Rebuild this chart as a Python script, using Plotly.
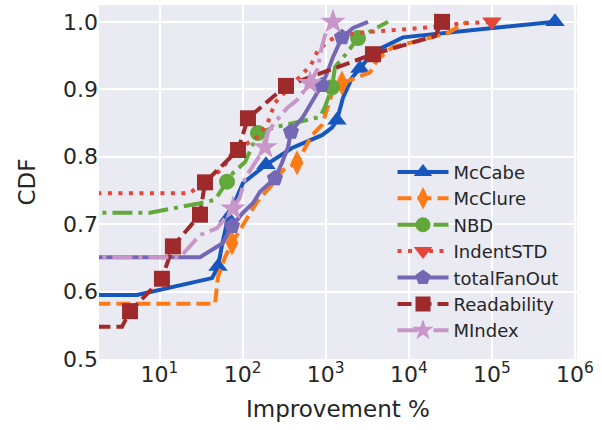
import plotly.graph_objects as go

# Series names (legend order)
series_names = ["McCabe", "McClure", "NBD", "IndentSTD", "totalFanOut", "Readability", "MIndex"]

# CDF curves: improvement % (x) vs cumulative fraction (y)
mccabe_x = [1, 5.36, 42.9, 50.6, 56.5, 66.7, 101, 191, 393, 902, 1190, 1365, 1611, 2070, 2582,
            3704, 8511, 23700, 125000, 574000]
mccabe_y = [0.595, 0.595, 0.620, 0.637, 0.669, 0.709, 0.761, 0.788, 0.813, 0.832, 0.843, 0.854,
            0.887, 0.917, 0.931, 0.955, 0.977, 0.983, 0.992, 1.0]

mcclure_x = [1, 46.6, 50.6, 61.4, 74.5, 149, 214, 306, 452, 684, 902, 1067, 1191, 1568, 2380,
             3413, 4141, 6457, 11220, 28840, 50120]
mcclure_y = [0.582, 0.582, 0.622, 0.651, 0.672, 0.733, 0.755, 0.780, 0.791, 0.832, 0.847, 0.874,
             0.894, 0.909, 0.918, 0.925, 0.943, 0.963, 0.970, 0.983, 1.0]

nbd_x = [1, 7.69, 30.7, 46.6, 64.9, 76.6, 107, 153, 232, 854, 981, 1191, 1294, 1803, 2447, 5623]
nbd_y = [0.717, 0.717, 0.731, 0.736, 0.763, 0.776, 0.792, 0.835, 0.843, 0.859, 0.874, 0.903,
         0.933, 0.954, 0.976, 1.0]

indent_x = [1, 23.3, 26.7, 50.6, 61.4, 74.5, 149, 202, 245, 533, 665, 807, 1125, 1486, 3141,
            7211, 17990, 44870, 100000]
indent_y = [0.746, 0.746, 0.752, 0.777, 0.788, 0.805, 0.829, 0.851, 0.880, 0.925, 0.936, 0.958,
            0.973, 0.980, 0.985, 0.988, 0.992, 0.998, 1.0]

fanout_x = [1, 30.7, 58.1, 74.5, 101, 133, 162, 245, 298, 352, 382, 533, 785, 902, 1038, 1225,
            1570, 2133, 3228]
fanout_y = [0.651, 0.651, 0.672, 0.697, 0.717, 0.731, 0.748, 0.768, 0.791, 0.814, 0.837, 0.859,
            0.894, 0.906, 0.924, 0.948, 0.977, 0.991, 1.0]

read_x = [1, 3.54, 4.42, 10.7, 14.5, 30.7, 35.3, 88.1, 116, 333, 3704, 20650, 25120]
read_y = [0.548, 0.548, 0.571, 0.619, 0.667, 0.714, 0.762, 0.810, 0.857, 0.905, 0.952, 0.979, 1.0]

mindex_x = [1, 17.7, 30.7, 49.2, 76.6, 93.1, 107, 141, 186, 202, 245, 342, 452, 647, 807, 879,
            981, 1225]
mindex_y = [0.651, 0.651, 0.684, 0.694, 0.723, 0.740, 0.768, 0.791, 0.814, 0.837, 0.851, 0.872,
            0.884, 0.909, 0.931, 0.958, 0.980, 1.0]

# Axis ticks
x_tick_vals = [10, 100, 1000, 10000, 100000, 1000000]
x_tick_text = ["10<sup>1</sup>", "10<sup>2</sup>", "10<sup>3</sup>", "10<sup>4</sup>",
               "10<sup>5</sup>", "10<sup>6</sup>"]
y_tick_vals = [0.5, 0.6, 0.7, 0.8, 0.9, 1.0]
y_tick_text = ["0.5", "0.6", "0.7", "0.8", "0.9", "1.0"]

data = {
    "McCabe": (mccabe_x, mccabe_y),
    "McClure": (mcclure_x, mcclure_y),
    "NBD": (nbd_x, nbd_y),
    "IndentSTD": (indent_x, indent_y),
    "totalFanOut": (fanout_x, fanout_y),
    "Readability": (read_x, read_y),
    "MIndex": (mindex_x, mindex_y),
}

# Line / marker styles; "mark" lists which points carry a marker
styles = {
    "McCabe": dict(color="#1656be", dash="solid", symbol="triangle-up", size=17, mark=[3, 5, 7, 11, 14, 19]),
    "McClure": dict(color="#fd7a14", dash="14px,6px", symbol="diamond-tall", size=18, mark=[4, 8, 13]),
    "NBD": dict(color="#63a83a", dash="20px,6px,4px,6px", symbol="circle", size=16, mark=[4, 7, 11, 14]),
    "IndentSTD": dict(color="#e4463a", dash="4px,6.5px", symbol="triangle-down", size=17, mark=[18]),
    "totalFanOut": dict(color="#7468b4", dash="solid", symbol="pentagon", size=17, mark=[3, 7, 10, 13, 16]),
    "Readability": dict(color="#9e2a2b", dash="14px,6px", symbol="square", size=16,
                        mark=[2, 3, 4, 5, 6, 7, 8, 9, 10, 12]),
    "MIndex": dict(color="#c896c8", dash="20px,6px,4px,6px", symbol="star", size=19, mark=[4, 8, 13, 17]),
}

fig = go.Figure()

for name in series_names:
    xs, ys = data[name]
    st = styles[name]
    sizes = [st["size"] if i in st["mark"] else 0 for i in range(len(xs))]
    fig.add_trace(go.Scatter(
        x=xs, y=ys, mode="lines+markers", showlegend=False,
        line=dict(color=st["color"], width=4, dash=st["dash"]),
        marker=dict(symbol=st["symbol"], size=sizes, color=st["color"], opacity=1,
                    line=dict(width=0)),
        hoverinfo="skip",
    ))

# Legend entries
for name in series_names:
    st = styles[name]
    fig.add_trace(go.Scatter(
        x=[None], y=[None], mode="lines+markers", name=name,
        line=dict(color=st["color"], width=4, dash=st["dash"]),
        marker=dict(symbol=st["symbol"], size=st["size"] - 1, color=st["color"], opacity=1,
                    line=dict(width=0)),
    ))

axis_common = dict(
    showgrid=True, gridcolor="white", gridwidth=1.6, zeroline=False, showline=False,
    ticks="", tickfont=dict(size=22, color="#262626"),
)

fig.update_layout(
    width=602, height=430,
    margin=dict(l=99, r=25, t=5, b=71),
    plot_bgcolor="#EAEAF2", paper_bgcolor="white",
    font=dict(family="DejaVu Sans", color="#262626"),
    legend=dict(x=0.614, y=0.58, xanchor="left", yanchor="top", bgcolor="rgba(0,0,0,0)",
                font=dict(size=18, color="#262626"), itemwidth=51, tracegroupgap=0),
    xaxis=dict(type="log", range=[0.272, 6.024], tickvals=x_tick_vals, ticktext=x_tick_text,
               title=dict(text="Improvement %", font=dict(size=23), standoff=14), **axis_common),
    yaxis=dict(range=[0.5, 1.025], tickvals=y_tick_vals, ticktext=y_tick_text,
               title=dict(text="CDF", font=dict(size=23), standoff=20), **axis_common),
)

fig.write_html("out.html")
